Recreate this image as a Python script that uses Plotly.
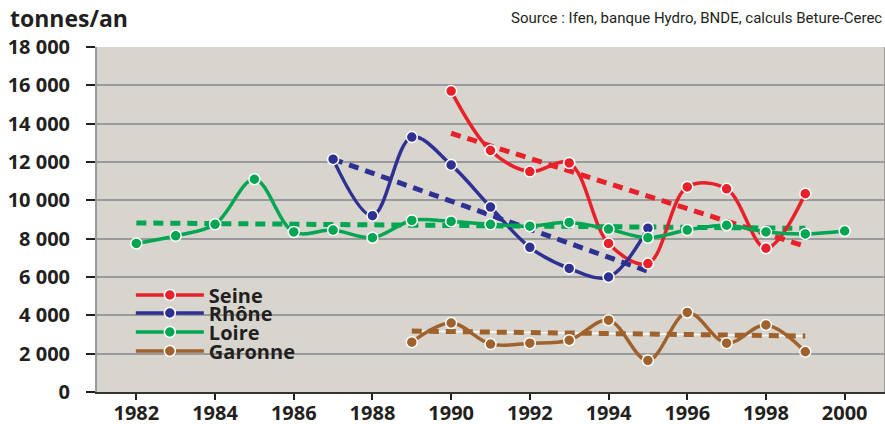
import plotly.graph_objects as go

# ---- data ----
seine_years = [1990, 1991, 1992, 1993, 1994, 1995, 1996, 1997, 1998, 1999]
seine_vals = [15700, 12600, 11500, 11950, 7750, 6700, 10700, 10600, 7500, 10350]

rhone_years = [1987, 1988, 1989, 1990, 1991, 1992, 1993, 1994, 1995]
rhone_vals = [12150, 9200, 13300, 11850, 9650, 7550, 6450, 6000, 8550]

loire_years = list(range(1982, 2001))
loire_vals = [7750, 8150, 8750, 11100, 8350, 8450, 8050, 8950, 8900, 8750,
              8650, 8850, 8500, 8050, 8450, 8700, 8350, 8250, 8400]

garonne_years = [1989, 1990, 1991, 1992, 1993, 1994, 1995, 1996, 1997, 1998, 1999]
garonne_vals = [2600, 3600, 2500, 2550, 2700, 3750, 1650, 4150, 2550, 3500, 2100]

# trend lines (start / end)
seine_trend_years = [1990, 1999]
seine_trend_vals = [13500, 7600]
rhone_trend_years = [1987, 1995]
rhone_trend_vals = [12150, 6300]
loire_trend_years = [1982, 1999]
loire_trend_vals = [8820, 8540]
garonne_trend_years = [1989, 1999]
garonne_trend_vals = [3180, 2920]

y_tickvals = [0, 2000, 4000, 6000, 8000, 10000, 12000, 14000, 16000, 18000]
y_ticktext = ["0", "2 000", "4 000", "6 000", "8 000", "10 000", "12 000", "14 000", "16 000", "18 000"]
x_tickvals = [1982, 1984, 1986, 1988, 1990, 1992, 1994, 1996, 1998, 2000]

names = ["Seine", "Rhône", "Loire", "Garonne"]
colors = ["#E8202A", "#2E3192", "#00A651", "#A0622D"]

TXT = "#231F20"
FONT = "Open Sans, DejaVu Sans, sans-serif"

fig = go.Figure()

series = [(seine_years, seine_vals), (rhone_years, rhone_vals),
          (loire_years, loire_vals), (garonne_years, garonne_vals)]
trends = [(seine_trend_years, seine_trend_vals), (rhone_trend_years, rhone_trend_vals),
          (loire_trend_years, loire_trend_vals), (garonne_trend_years, garonne_trend_vals)]

# trend lines first
for i, (tx, ty) in enumerate(trends):
    if names[i] == "Garonne":
        fig.add_trace(go.Scatter(x=tx, y=ty, mode="lines", showlegend=False,
                                 line=dict(color="white", width=1.5), hoverinfo="skip"))
    fig.add_trace(go.Scatter(x=tx, y=ty, mode="lines", showlegend=False,
                             line=dict(color=colors[i], width=5, dash="10px,7px"),
                             hoverinfo="skip"))

legend_ids = ["legend", "legend2", "legend3", "legend4"]
for i, (sx, sy) in enumerate(series):
    fig.add_trace(go.Scatter(
        x=sx, y=sy, mode="lines+markers", name=names[i],
        legend=legend_ids[i],
        line=dict(color=colors[i], width=3.5, shape="spline", smoothing=1.0),
        marker=dict(color=colors[i], size=11, line=dict(color="white", width=1.5)),
    ))

legend_y = [295, 313, 332, 351]  # pixel centres
plot_top, plot_bot = 47, 392
legend_layout = {}
for i, lid in enumerate(legend_ids):
    yp = (plot_bot - legend_y[i]) / (plot_bot - plot_top)
    legend_layout[lid] = dict(
        x=0.043, y=yp, xanchor="left", yanchor="middle",
        xref="paper", yref="paper",
        bgcolor="rgba(0,0,0,0)", borderwidth=0,
        font=dict(family=FONT, size=20, color=TXT, weight="bold"),
        itemwidth=68, tracegroupgap=0,
    )

fig.update_layout(
    width=885, height=424,
    margin=dict(l=97, r=1, t=47, b=32, autoexpand=False),
    paper_bgcolor="white",
    plot_bgcolor="#D8D5CF",
    font=dict(family=FONT, color=TXT),
    xaxis=dict(
        range=[1981, 2001], tickvals=x_tickvals,
        showgrid=False, zeroline=False,
        showline=True, linecolor="#333333", linewidth=1.5,
        ticks="outside", ticklen=6, tickwidth=1.5, tickcolor=TXT,
        ticklabelstandoff=-4,
        tickfont=dict(family=FONT, size=20, color=TXT, weight="bold"),
    ),
    yaxis=dict(
        range=[0, 18000], tickvals=y_tickvals, ticktext=y_ticktext,
        showgrid=True, gridcolor="#9A9A9A", gridwidth=1.5,
        zeroline=False,
        showline=True, linecolor="#9A9A9A", linewidth=2, mirror=True,
        ticks="outside", ticklen=9, tickwidth=1.5, tickcolor=TXT,
        ticklabelstandoff=12,
        tickfont=dict(family=FONT, size=20, color=TXT, weight="bold"),
    ),
    annotations=[
        dict(text="tonnes/an", x=-0.1131, y=1.084, xref="paper", yref="paper",
             xanchor="left", yanchor="middle", showarrow=False,
             font=dict(family=FONT, size=23, color=TXT, weight="bold")),
        dict(text="Source : Ifen, banque Hydro, BNDE, calculs Beture-Cerec",
             x=1.0, y=1.084, xref="paper", yref="paper",
             xanchor="right", yanchor="middle", showarrow=False,
             font=dict(family="Liberation Sans Narrow, Roboto, sans-serif", size=15, color=TXT)),
    ],
    showlegend=True,
    **legend_layout,
)

fig.write_html("out.html", config={"displayModeBar": False},
               post_script="document.body.style.margin='0';")
